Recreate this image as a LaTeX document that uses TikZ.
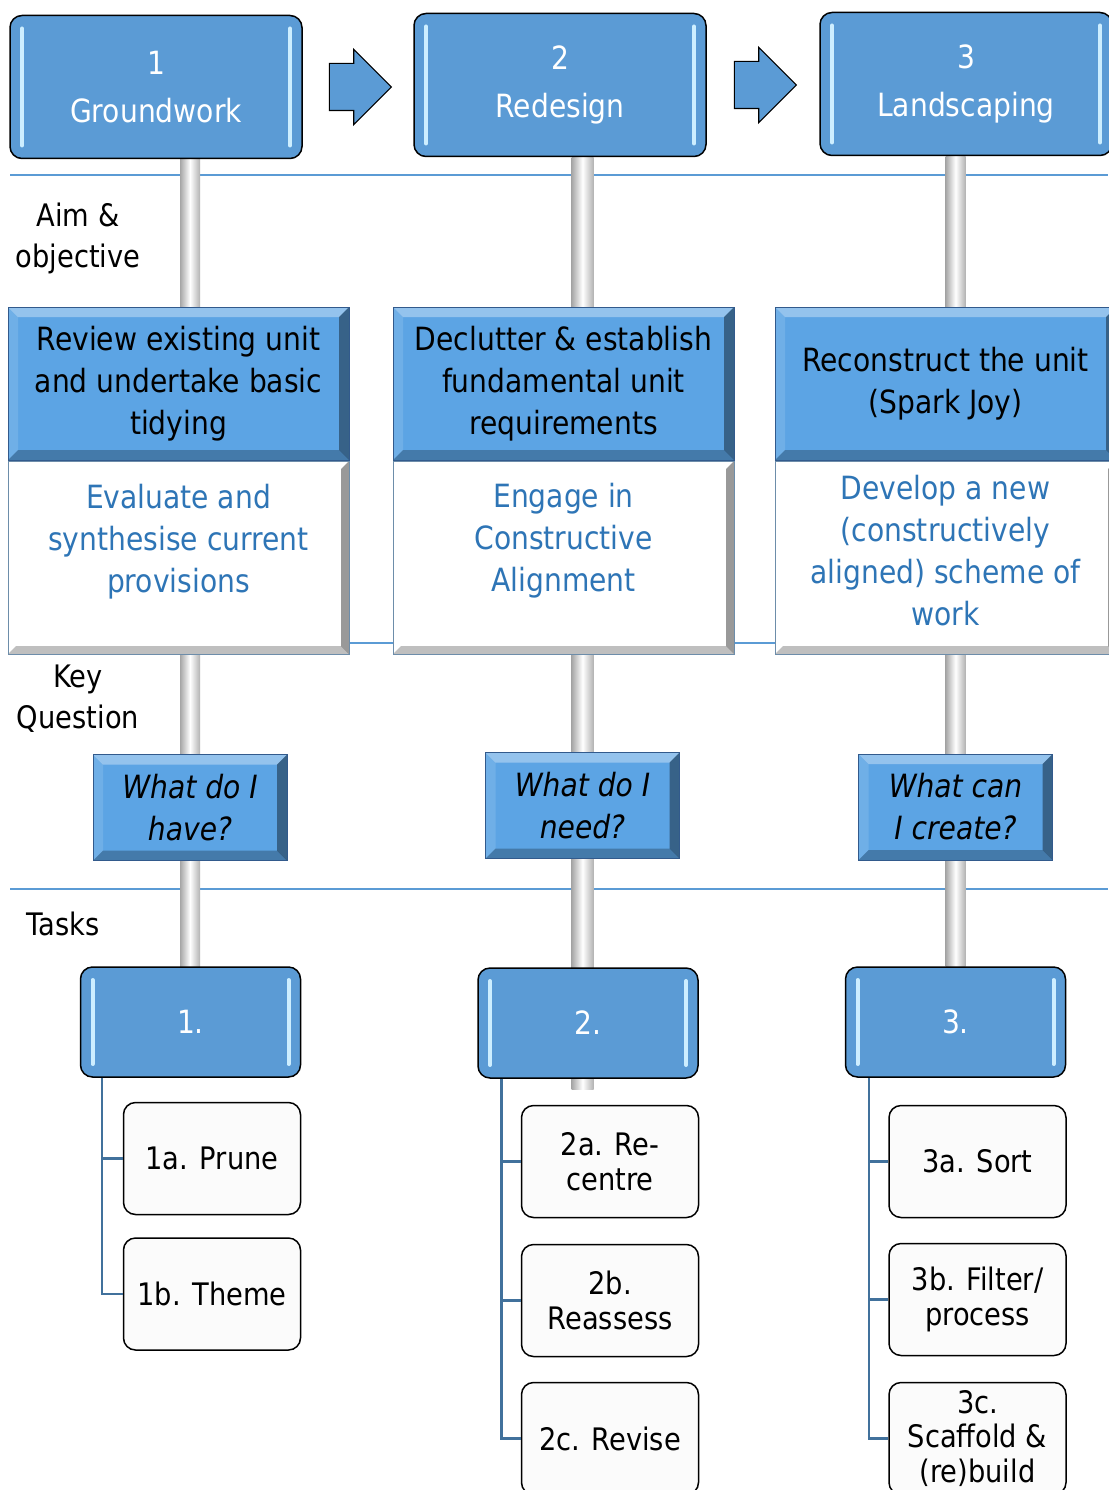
\documentclass[tikz,border=0pt]{standalone}
\usepackage{fontspec}
\setmainfont{DejaVu Sans}[FakeStretch=0.88]
\usetikzlibrary{positioning,calc,backgrounds,shapes.arrows}
\definecolor{hdrblue}{RGB}{91,155,213}
\definecolor{aimblue}{RGB}{92,164,228}
\definecolor{aimedge}{RGB}{50,90,140}
\definecolor{txtblue}{RGB}{46,117,182}
\definecolor{rule}{RGB}{91,155,213}
\definecolor{treeblue}{RGB}{65,113,156}
\definecolor{glow}{RGB}{205,238,255}
\tikzset{
  gloss/.style={path picture={
      \draw[glow, line width=4pt, line cap=round]
        ([shift={(12pt,-13pt)}]path picture bounding box.north west) --
        ([shift={(12pt,13pt)}]path picture bounding box.south west)
        ([shift={(-12pt,-13pt)}]path picture bounding box.north east) --
        ([shift={(-12pt,13pt)}]path picture bounding box.south east);}},
  bevel/.style={path picture={
      \path (path picture bounding box.south west) coordinate (bsw)
            (path picture bounding box.south east) coordinate (bse)
            (path picture bounding box.north west) coordinate (bnw)
            (path picture bounding box.north east) coordinate (bne);
      \fill[white, opacity=.35] (bnw) -- (bne) -- ++(-#1,-#1) -- ($(bnw)+(#1,-#1)$) -- cycle;
      \fill[white, opacity=.12] (bnw) -- (bsw) -- ++(#1,#1) -- ($(bnw)+(#1,-#1)$) -- cycle;
      \fill[black, opacity=.40] (bne) -- (bse) -- ++(-#1,#1) -- ($(bne)+(-#1,-#1)$) -- cycle;
      \fill[black, opacity=.25] (bsw) -- (bse) -- ++(-#1,#1) -- ($(bsw)+(#1,#1)$) -- cycle;}},
  hdr/.style={draw=black, line width=1.5pt, rounded corners=12pt, fill=hdrblue,
    text=white, align=center, inner sep=0pt, minimum width=292pt, minimum height=143pt,
    font=\fontsize{32}{48}\selectfont, gloss},
  taskhd/.style={hdr, minimum width=220pt, minimum height=110pt},
  aimbox/.style={draw=aimedge, line width=1pt, fill=aimblue, bevel=10pt, align=center,
    inner sep=0pt, minimum width=341pt, minimum height=153pt, font=\fontsize{32}{42}\selectfont},
  evalbox/.style={aimbox, fill=white, draw=gray!50!rule, bevel=8pt, minimum height=193pt},
  evaltxt/.style={align=center, inner sep=0pt, text=txtblue, font=\fontsize{32}{42}\selectfont},
  qbox/.style={aimbox, minimum width=194pt, minimum height=106pt, font=\fontsize{32}{42}\selectfont\itshape},
  sub/.style={draw=black, line width=1.5pt, rounded corners=12pt, fill=gray!3, align=center,
    inner sep=0pt, minimum width=177pt, minimum height=112pt, font=\fontsize{31}{34.5}\selectfont},
  lbl/.style={align=center, font=\fontsize{31}{41}\selectfont},
  flow/.style={single arrow, draw=black, line width=1.2pt, fill=hdrblue, inner xsep=0pt, inner ysep=23pt,
    minimum height=62pt, minimum width=74pt, single arrow head extend=14pt},
  tree/.style={treeblue, line width=2.5pt},
  stem/.style={left color=gray!70, right color=gray!60, middle color=white},
}
\begin{document}
\begin{tikzpicture}[x=1pt, y=-1pt]
  \useasboundingbox (0,0) rectangle (1108,1490);
  % phases
  \node[hdr] (h1) at (156,87) {1\\Groundwork};
  \node[hdr] (h2) at (560,85) {2\\Redesign};
  \node[hdr] (h3) at (966,84) {3\\Landscaping};
  \node[flow, right=26pt of h1] (ar1) {};
  \node[flow, right=27pt of h2] (ar2) {};
  % aims
  \node[aimbox] (a1) at (178.5,383.5) {Review existing unit\\and undertake basic\\tidying};
  \node[aimbox] (a2) at (563.5,383.5) {Declutter \& establish\\fundamental unit\\requirements};
  \node[aimbox] (a3) at (945.5,383.5) {Reconstruct the unit\\(Spark Joy)};
  \node[evalbox, below=0pt of a1] (e1) {};
  \node[evalbox, below=0pt of a2] (e2) {};
  \node[evalbox, below=0pt of a3] (e3) {};
  \node[evaltxt] (e1t) at ([yshift=16pt]e1.center) {Evaluate and\\synthesise current\\provisions};
  \node[evaltxt] (e2t) at ([yshift=17pt]e2.center) {Engage in\\Constructive\\Alignment};
  \node[evaltxt] (e3t) at ([yshift=7pt]e3.center) {Develop a new\\(constructively\\aligned) scheme of\\work};
  % questions
  \node[qbox] (q1) at (190,807.5) {What do I\\have?};
  \node[qbox] (q2) at (582.5,805.5) {What do I\\need?};
  \node[qbox] (q3) at (955.5,807) {What can\\I create?};
  % tasks
  \node[taskhd] (t1) at (190.5,1022) {1.};
  \node[taskhd] (t2) at (588,1023) {2.};
  \node[taskhd] (t3) at (955.5,1022) {3.};
  \node[sub] (s1a) at (212,1158.5) {1a. Prune};
  \node[sub] (s1b) at (212,1294) {1b. Theme};
  \node[sub] (s2a) at (610,1161.5) {2a. Re-\\centre};
  \node[sub] (s2b) at (610,1300.5) {2b.\\Reassess};
  \node[sub] (s2c) at (610,1438.5) {2c. Revise};
  \node[sub] (s3a) at (977.5,1161.5) {3a. Sort};
  \node[sub] (s3b) at (977.5,1299.5) {3b. Filter/\\process};
  \node[sub] (s3c) at (977.5,1438.5) {3c.\\Scaffold \&\\(re)build};
  % row labels
  \node[lbl] (aim) at (78,238) {Aim \&\\objective};
  \node[lbl] (key) at (78,699) {Key\\Question};
  \node[lbl] (tasks) at (63,924) {Tasks};
  \begin{scope}[on background layer]
    \foreach \y in {175,643,889}
      \draw[rule, line width=1.2pt] (10,\y) -- (1108,\y);
    \shade[stem] ($(q1 |- h1.south)+(-10pt,0)$) rectangle ($(q1 |- t1.north)+(10pt,0)$);
    \shade[stem] ($(q2 |- h2.south)+(-11pt,0)$) rectangle ($(q2 |- t2.south)+(11pt,-11pt)$);
    \shade[stem] ($(q3 |- h3.south)+(-10pt,0)$) rectangle ($(q3 |- t3.north)+(10pt,0)$);
  \end{scope}
  \draw[tree] ([xshift=22pt]t1.south west) |- (s1a.west);
  \draw[tree] ([xshift=22pt]t1.south west) |- (s1b.west);
  \draw[tree] ([xshift=24pt]t2.south west) |- (s2a.west);
  \draw[tree] ([xshift=24pt]t2.south west) |- (s2b.west);
  \draw[tree] ([xshift=24pt]t2.south west) |- (s2c.west);
  \draw[tree] ([xshift=24pt]t3.south west) |- (s3a.west);
  \draw[tree] ([xshift=24pt]t3.south west) |- (s3b.west);
  \draw[tree] ([xshift=24pt]t3.south west) |- (s3c.west);
\end{tikzpicture}
\end{document}
